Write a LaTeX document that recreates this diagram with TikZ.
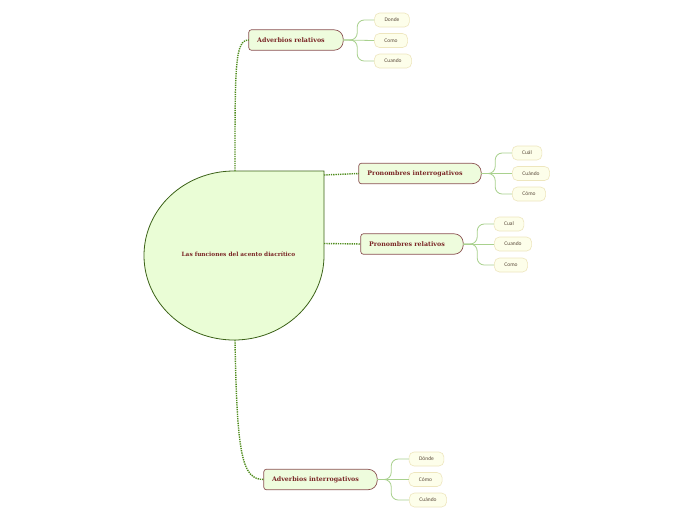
\documentclass[tikz,border=0pt]{standalone}
\usepackage{fontspec}
\setmainfont{DejaVu Serif}
\newfontfamily\subfont{Carlito}
\usetikzlibrary{backgrounds}
\definecolor{cfill}{HTML}{EAFDD6}
\definecolor{cline}{HTML}{3C6218}
\definecolor{txtred}{HTML}{7A2626}
\definecolor{mfill}{HTML}{EEFCDD}
\definecolor{mline}{HTML}{8A5050}
\definecolor{sfill}{HTML}{FDFEEA}
\definecolor{sline}{HTML}{EEE6BE}
\definecolor{stxt}{HTML}{5A4A3A}
\definecolor{dotc}{HTML}{4F8C1C}
\definecolor{subc}{HTML}{A9D18E}
\tikzset{
  maintopic/.style={rectangle, minimum height=20pt, inner xsep=0pt,
    text=txtred, font=\fontsize{6.3}{8}\selectfont\bfseries},
  topicshape/.style={draw=mline, fill=mfill, line width=0.7pt},
  subtopic/.style={rectangle, rounded corners=5pt, draw=sline, fill=sfill, line width=0.6pt,
    minimum height=14pt, inner xsep=10pt, inner ysep=0pt, text=stxt, font=\subfont\fontsize{5.5}{6}\selectfont},
  dotline/.style={draw=dotc, line width=1.4pt, dash pattern=on 1.3pt off 1pt},
  subline/.style={draw=subc, line width=0.8pt, rounded corners=7pt},
}
\newcommand\topicbg[1]{%
  \path[topicshape] (#1.north) [rounded corners=2.5pt] -- (#1.north west) -- (#1.south west)
    -- (#1.south) [rounded corners=9pt] -- (#1.south east) -- (#1.north east) -- cycle;}
\begin{document}
\begin{tikzpicture}[x=1pt,y=-1pt]
\useasboundingbox (0,0) rectangle (696,520);
% central shape
\draw[cline, fill=cfill, line width=0.8pt] (234,171) -- (324,171) -- (324,255.5)
  .. controls (324,302.2) and (283.7,340) .. (234,340)
  .. controls (184.3,340) and (144,302.2) .. (144,255.5)
  .. controls (144,208.8) and (184.3,171) .. cycle;
\node[text=txtred, font=\fontsize{5.8}{7}\selectfont\bfseries] (c) at (238.5,254) {Las funciones del acento diacrítico};
\coordinate (ctop) at (235,171);
\coordinate (cbot) at (235,340);
\coordinate (cr1) at (324,175);
\coordinate (cr2) at (324,243.5);
% main topics
\node[maintopic, minimum width=94pt] (ar) at (296,40) {Adverbios relativos\kern10pt};
\node[maintopic, minimum width=122pt] (pi) at (420,173.5) {Pronombres interrogativos\kern10pt};
\node[maintopic, minimum width=102pt] (pr) at (412,244) {Pronombres relativos\kern10pt};
\node[maintopic, minimum width=113pt] (ai) at (320.5,479.5) {Adverbios interrogativos\kern10pt};
\begin{scope}[on background layer]
  \fill[white] (0,0) rectangle (696,520);
  \topicbg{ar}\topicbg{pi}\topicbg{pr}\topicbg{ai}
\end{scope}
% dotted connectors
\draw[dotline] (ctop) .. controls +(0,-105) and +(-14,0) .. (ar.west);
\draw[dotline] (cr1) -- (pi.west);
\draw[dotline] (cr2) -- (pr.west);
\draw[dotline] (cbot) .. controls +(2,115) and +(-22,0) .. (ai.west);
% subtopics
\node[subtopic] (a1) at (392,20) {Donde};
\node[subtopic] (a2) at (391,40.5) {Como};
\node[subtopic] (a3) at (393,61) {Cuando};
\node[subtopic] (b1) at (527,153) {Cuál};
\node[subtopic] (b2) at (531,173.5) {Cuándo};
\node[subtopic] (b3) at (529,194) {Cómo};
\node[subtopic] (d1) at (509,224) {Cual};
\node[subtopic] (d2) at (513,244) {Cuando};
\node[subtopic] (d3) at (511,265) {Como};
\node[subtopic] (e1) at (426.5,459) {Dónde};
\node[subtopic] (e2) at (425.5,479.5) {Cómo};
\node[subtopic] (e3) at (428,500) {Cuándo};
% sub connectors
\foreach \m/\s in {ar/a, pi/b, pr/d, ai/e}{
  \draw[subline] (\m.east) -- (\s2.west);
  \draw[subline] (\m.east) -- ++(14,0) |- (\s1.west);
  \draw[subline] (\m.east) -- ++(14,0) |- (\s3.west);
}
\end{tikzpicture}
\end{document}
